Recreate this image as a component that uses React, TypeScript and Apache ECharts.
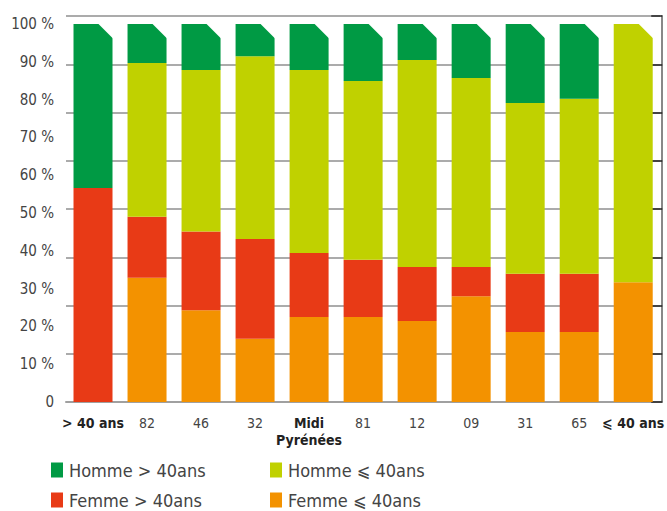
import React, { useEffect, useRef } from "react";
import * as echarts from "echarts";

const categories = ["> 40 ans", "82", "46", "32", "Midi\nPyrénées", "81", "12", "09", "31", "65", "⩽ 40 ans"];
const boldCategories = ["> 40 ans", "Midi\nPyrénées", "⩽ 40 ans"];
const yTickValues = [0, 10, 20, 30, 40, 50, 60, 70, 80, 90, 100];

const femmeInf = [0, 32.9, 24.3, 16.7, 22.5, 22.5, 21.4, 28.0, 18.5, 18.5, 31.7];
const femmeSup = [56.6, 16.1, 20.8, 26.4, 16.9, 15.1, 14.3, 7.7, 15.4, 15.4, 0];
const hommeInf = [0, 40.7, 42.7, 48.4, 48.4, 47.3, 54.8, 50.0, 45.2, 46.3, 68.3];
const hommeSup = [43.4, 10.3, 12.2, 8.5, 12.2, 15.1, 9.5, 14.3, 20.9, 19.8, 0];

const names = {
  hSup: "Homme > 40ans",
  hInf: "Homme ⩽ 40ans",
  fSup: "Femme > 40ans",
  fInf: "Femme ⩽ 40ans",
};

const FONT = "'Liberation Sans Narrow', 'DejaVu Sans Condensed', 'Liberation Sans', sans-serif";
const BAR_W = 39;
const CUT = 15;

export default function App() {
  const ref = useRef<HTMLDivElement>(null);
  useEffect(() => {
    if (!ref.current) return;
    const chart = echarts.init(ref.current, null, { renderer: "svg" });
    const totals = categories.map((_, i) => femmeInf[i] + femmeSup[i] + hommeInf[i] + hommeSup[i]);
    const legendBase = {
      icon: "rect",
      itemWidth: 12,
      itemHeight: 15,
      itemGap: 6,
      padding: 0,
      textStyle: { fontFamily: FONT, fontSize: 18, color: "#444", padding: [0, 0, 0, 1] },
      selectedMode: false,
    };
    chart.setOption({
      animation: false,
      grid: { left: 66, right: 4, top: 16, bottom: 109, containLabel: false },
      legend: [
        { ...legendBase, data: [names.hSup], left: 51, top: 461 },
        { ...legendBase, data: [names.hInf], left: 270, top: 461 },
        { ...legendBase, data: [names.fSup], left: 51, top: 491 },
        { ...legendBase, data: [names.fInf], left: 270, top: 491 },
      ],
      xAxis: {
        type: "category",
        data: categories,
        axisLine: { show: true, lineStyle: { color: "#a0a0a0", width: 2 } },
        axisTick: { show: false },
        axisLabel: {
          interval: 0,
          margin: 12,
          formatter: (v: string) =>
            boldCategories.includes(v)
              ? v.split("\n").map((s) => `{b|${s}}`).join("\n")
              : `{n|${v}}`,
          rich: {
            b: { fontFamily: FONT, fontSize: 14, fontWeight: "bold", color: "#222", lineHeight: 17 },
            n: { fontFamily: FONT, fontSize: 14, color: "#444", lineHeight: 17 },
          },
        },
      },
      yAxis: [
        {
          type: "value",
          min: 0,
          max: (100 * 386) / 378,
          interval: 10,
          axisLine: { show: false },
          axisTick: { show: false },
          splitLine: { show: false },
          axisLabel: {
            margin: 12,
            fontFamily: FONT,
            fontSize: 15,
            color: "#444",
            customValues: yTickValues,
            formatter: (v: number) => (v > 100.5 ? "" : v === 0 ? "0" : `${Math.round(v)} %`),
          },
        },
        {
          type: "value",
          min: 0,
          max: 8,
          interval: 1,
          offset: 2,
          axisLabel: { show: false },
          axisLine: { show: true, lineStyle: { color: "#888", width: 2 } },
          axisTick: { show: true, inside: true, length: 11, lineStyle: { color: "#222", width: 1.5 } },
          splitLine: { show: true, lineStyle: { color: "#ababab", width: 2 } },
        },
      ],
      series: [
        { name: names.fInf, type: "bar", stack: "t", data: femmeInf, barWidth: BAR_W, itemStyle: { color: "#f39200" } },
        { name: names.fSup, type: "bar", stack: "t", data: femmeSup, barWidth: BAR_W, itemStyle: { color: "#e83a16" } },
        { name: names.hInf, type: "bar", stack: "t", data: hommeInf, barWidth: BAR_W, itemStyle: { color: "#c0d100" } },
        { name: names.hSup, type: "bar", stack: "t", data: hommeSup, barWidth: BAR_W, itemStyle: { color: "#009a44" } },
        {
          type: "custom",
          silent: true,
          z: 10,
          data: totals.map((t, i) => [i, t]),
          renderItem: (params: any, api: any) => {
            const p = api.coord([api.value(0), api.value(1)]);
            const xr = p[0] + BAR_W / 2;
            const y = p[1];
            return {
              type: "polygon",
              shape: { points: [[xr - CUT, y - 1], [xr + 1, y - 1], [xr + 1, y + CUT]] },
              style: { fill: "#ffffff" },
            };
          },
        },
      ],
    });
    return () => chart.dispose();
  }, []);
  return <div ref={ref} style={{ position: "fixed", left: 0, top: 0, width: 667, height: 511, background: "#fff" }} />;
}
